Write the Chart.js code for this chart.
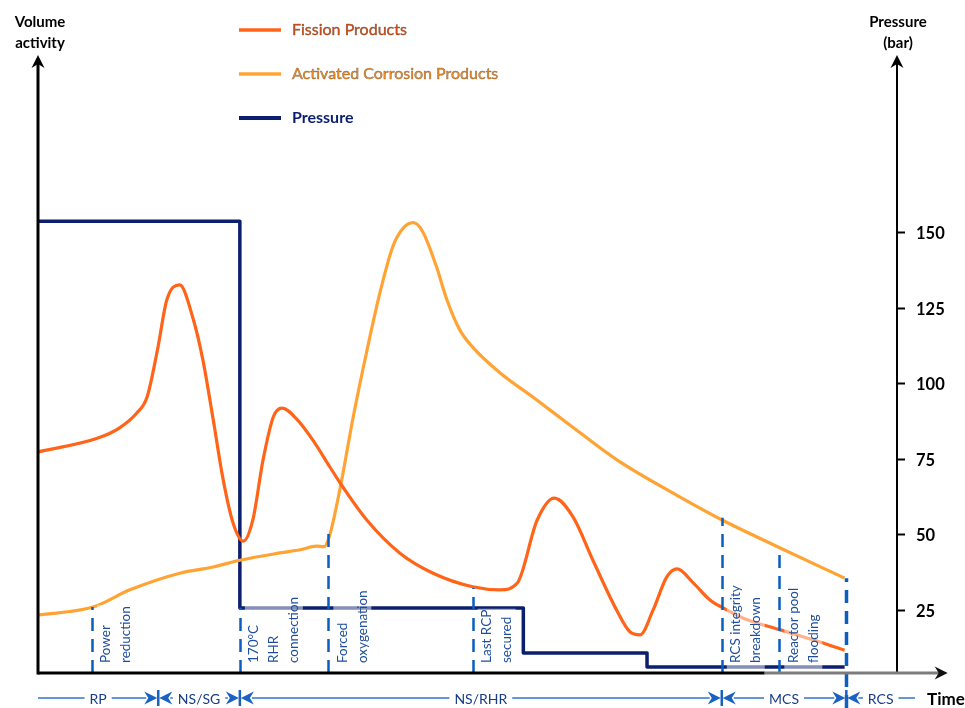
<!DOCTYPE html>
<html>
<head>
<meta charset="utf-8">
<script src="https://cdn.jsdelivr.net/npm/chart.js@4/dist/chart.umd.min.js"></script>
<style>
  html, body { margin: 0; padding: 0; background: #ffffff; }
  #wrap { width: 965px; height: 708px; position: relative; }
</style>
</head>
<body>
<div id="wrap"><canvas id="c"></canvas></div>
<script>
// ---- Data ---------------------------------------------------------------
// Time axis is in relative units (0 .. 100 across the plot).
const fpTime = [0, 6.9, 9.5, 11.5, 12.7, 13.9, 15.0, 16.5, 18.0, 19.2, 20.4, 21.5, 22.7, 23.9, 25.0, 26.2, 27.4, 28.4, 30.2, 32.0, 34.0, 35.2, 38.3, 42.1, 46.0, 50.6, 53.8, 55.8, 58.1, 60.1, 62.3, 64.6, 67.4, 68.9, 70.1, 71.6, 73.2, 74.4, 76.3, 78.2, 79.7, 82.1, 86.4, 90.2, 93.9];
const fpActivity = [35.9, 38.1, 39.8, 42.2, 44.8, 52.4, 60.6, 63.0, 57.8, 50.8, 41.1, 31.8, 24.4, 21.4, 24.8, 34.6, 41.6, 43.0, 41.1, 37.8, 33.4, 30.8, 24.8, 19.5, 16.2, 14.0, 13.5, 14.6, 24.8, 28.4, 25.3, 18.3, 10.1, 6.7, 6.2, 10.2, 15.6, 16.9, 14.6, 11.9, 10.6, 8.9, 7.0, 5.4, 3.7];

const acpTime = [0, 6.4, 10.7, 16.5, 20.4, 23.5, 28.2, 30.5, 32.4, 33.3, 33.9, 35.2, 36.7, 38.3, 39.8, 41.3, 42.5, 43.7, 44.8, 46.4, 47.6, 49.1, 50.6, 53.8, 57.6, 61.6, 67.4, 74.7, 79.7, 86.4, 93.9];
const acpActivity = [9.4, 10.7, 13.5, 16.2, 17.2, 18.3, 19.5, 20.0, 20.6, 20.5, 22.1, 30.2, 41.6, 52.4, 61.7, 69.2, 72.2, 73.1, 71.6, 65.9, 60.6, 55.7, 52.9, 48.7, 44.8, 40.6, 34.6, 28.6, 24.8, 20.3, 15.4];

const pressureTime = [0, 23.5, 56.5, 70.9, 93.9];
const pressureBar = [153.6, 25.7, 10.8, 6.2, 6.2];

const pressureTicks = [25, 50, 75, 100, 125, 150];

// Operating events: time, activity level where the marker starts, caption lines
const eventTime = [6.3, 23.5, 33.8, 50.6, 79.6, 86.3, 94.1];
const eventTop = [10.7, 10.6, 23.5, 13.8, 25.2, 20.3, 15.4];
const eventText = [
  ['Power', 'reduction'],
  ['170°C', 'RHR', 'connection'],
  ['Forced', 'oxygenation'],
  ['Last RCP', 'secured'],
  ['RCS integrity', 'breakdown'],
  ['Reactor pool', 'flooding'],
  []
];

// Shutdown phases along the time axis
const phaseNames = ['RP', 'NS/SG', 'NS/RHR', 'MCS', 'RCS'];
const phaseBounds = [0, 14.0, 23.5, 79.6, 94.1, 102.1];

const seriesNames = ['Fission Products', 'Activated Corrosion Products', 'Pressure'];

// ---- Styling ------------------------------------------------------------
const COL = {
  fp: '#FF6419',
  acp: '#FFA434',
  pres: '#0B1F6E',
  event: '#0B5EC0',
  eventText: '#1E4E9C',
  phaseLine: '#3576C6',
  phaseText: '#173C88'
};
const FONT = 'Lato, "Open Sans", sans-serif';

function pts(xs, ys) { return xs.map((t, i) => ({ x: t, y: ys[i] })); }

function arrowHead(ctx, x, y, dir) {
  // filled notched arrowhead, dir 'up' or 'right'
  ctx.beginPath();
  if (dir === 'up') {
    ctx.moveTo(x, y);
    ctx.lineTo(x - 6.5, y + 13);
    ctx.lineTo(x, y + 9);
    ctx.lineTo(x + 6.5, y + 13);
  } else {
    ctx.moveTo(x, y);
    ctx.lineTo(x - 13, y - 6.5);
    ctx.lineTo(x - 9, y);
    ctx.lineTo(x - 13, y + 6.5);
  }
  ctx.closePath();
  ctx.fill();
}

function bowtie(ctx, x, y, color) {
  // two arrowheads meeting at a phase boundary
  ctx.fillStyle = color;
  ctx.beginPath();
  ctx.moveTo(x - 1, y);
  ctx.lineTo(x - 14, y - 6.5);
  ctx.lineTo(x - 10, y);
  ctx.lineTo(x - 14, y + 6.5);
  ctx.closePath();
  ctx.fill();
  ctx.beginPath();
  ctx.moveTo(x + 1, y);
  ctx.lineTo(x + 14, y - 6.5);
  ctx.lineTo(x + 10, y);
  ctx.lineTo(x + 14, y + 6.5);
  ctx.closePath();
  ctx.fill();
  ctx.strokeStyle = color;
  ctx.lineWidth = 2.5;
  ctx.beginPath();
  ctx.moveTo(x, y - 8);
  ctx.lineTo(x, y + 8);
  ctx.stroke();
}

const decorations = {
  id: 'decorations',
  afterDatasetsDraw(chart) {
    const { ctx, chartArea: a, scales } = chart;
    const sx = scales.x, sy = scales.y, sp = scales.y1;
    ctx.save();

    // event markers (dashed)
    eventTime.forEach((t, i) => {
      const px = Math.round(sx.getPixelForValue(t)) + 0.5;
      const top = sy.getPixelForValue(eventTop[i]);
      const last = i === eventTime.length - 1;
      ctx.strokeStyle = COL.event;
      ctx.lineWidth = last ? 3.5 : 2.5;
      ctx.setLineDash([13, 8]);
      ctx.beginPath();
      ctx.moveTo(px, last ? chart.height : a.bottom);
      ctx.lineTo(px, top);
      ctx.stroke();
    });
    ctx.setLineDash([]);

    // event captions, rotated, on a translucent backing
    ctx.font = '13.5px ' + FONT;
    eventText.forEach((lines, i) => {
      if (!lines.length) return;
      const px = sx.getPixelForValue(eventTime[i]);
      const x0 = px + 14, step = 20, yb = a.bottom - 10;
      const w = Math.max(...lines.map(s => ctx.measureText(s).width));
      ctx.fillStyle = 'rgba(255,255,255,0.5)';
      ctx.fillRect(x0 - 9, yb - w - 1, (lines.length - 1) * step + 18, w + 7);
      ctx.fillStyle = COL.eventText;
      ctx.textAlign = 'left';
      ctx.textBaseline = 'middle';
      lines.forEach((s, k) => {
        ctx.save();
        ctx.translate(x0 + k * step, yb);
        ctx.rotate(-Math.PI / 2);
        ctx.fillText(s, 0, 0);
        ctx.restore();
      });
    });

    // axes
    ctx.fillStyle = '#000';
    ctx.strokeStyle = '#000';
    ctx.lineWidth = 3;
    ctx.beginPath();
    ctx.moveTo(a.left, a.bottom + 1.5);
    ctx.lineTo(a.left, a.top + 6);
    ctx.stroke();
    arrowHead(ctx, a.left, a.top - 2, 'up');

    ctx.lineWidth = 2;
    ctx.beginPath();
    ctx.moveTo(a.right, a.bottom);
    ctx.lineTo(a.right, a.top + 6);
    ctx.stroke();
    arrowHead(ctx, a.right, a.top - 2, 'up');

    const xEnd = sx.getPixelForValue(105.9);
    const xGrey = sx.getPixelForValue(84.6);
    ctx.lineWidth = 3;
    ctx.beginPath();
    ctx.moveTo(a.left, a.bottom);
    ctx.lineTo(xGrey, a.bottom);
    ctx.stroke();
    ctx.strokeStyle = '#7c7c7c';
    ctx.beginPath();
    ctx.moveTo(xGrey, a.bottom);
    ctx.lineTo(xEnd - 8, a.bottom);
    ctx.stroke();
    ctx.fillStyle = '#111';
    arrowHead(ctx, xEnd, a.bottom, 'right');

    // pressure ticks
    ctx.fillStyle = '#000';
    ctx.strokeStyle = '#000';
    ctx.lineWidth = 2;
    ctx.font = 'bold 16.5px ' + FONT;
    ctx.textAlign = 'left';
    ctx.textBaseline = 'middle';
    pressureTicks.forEach(v => {
      const py = Math.round(sp.getPixelForValue(v)) + 0.5;
      ctx.beginPath();
      ctx.moveTo(a.right, py);
      ctx.lineTo(a.right + 8, py);
      ctx.stroke();
      ctx.fillText(String(v), a.right + 19, py + 1);
    });

    // axis titles
    ctx.font = 'bold 15px ' + FONT;
    ctx.textAlign = 'center';
    ctx.fillText('Volume', a.left + 2, 22);
    ctx.fillText('activity', a.left + 2, 43);
    ctx.fillText('Pressure', a.right + 1, 22);
    ctx.fillText('(bar)', a.right + 1, 43);
    ctx.font = 'bold 17px ' + FONT;
    ctx.textAlign = 'left';
    ctx.fillText('Time', sx.getPixelForValue(103.5), 700);

    // legend
    const legCols = [COL.fp, COL.acp, COL.pres];
    const legText = ['#D9531C', '#F0942A', '#0B1F6E'];
    const legY = [30, 74, 118];
    ctx.textBaseline = 'middle';
    chart.data.datasets.forEach((ds, i) => {
      ctx.strokeStyle = legCols[i];
      ctx.lineWidth = i === 2 ? 4 : 3.5;
      ctx.beginPath();
      ctx.moveTo(239, legY[i]);
      ctx.lineTo(281, legY[i]);
      ctx.stroke();
      ctx.fillStyle = legText[i];
      ctx.font = (i === 2 ? 'bold ' : '') + '16px ' + FONT;
      ctx.fillText(ds.label, 292, legY[i]);
      ctx.lineWidth = 0.5;
      ctx.strokeStyle = 'rgba(60,30,10,0.55)';
      if (i < 2) ctx.strokeText(ds.label, 292, legY[i]);
    });

    // phase timeline
    const ty = 698;
    ctx.font = '14px ' + FONT;
    ctx.textAlign = 'center';
    ctx.textBaseline = 'middle';
    for (let k = 0; k < phaseNames.length; k++) {
      const x1 = sx.getPixelForValue(phaseBounds[k]);
      const x2 = sx.getPixelForValue(phaseBounds[k + 1]);
      const cx = (x1 + x2) / 2;
      const w = ctx.measureText(phaseNames[k]).width;
      const s1 = x1 + (k > 0 ? 12 : 0), e2 = x2 - (k < phaseNames.length - 1 ? 12 : 0);
      ctx.strokeStyle = COL.phaseLine;
      ctx.lineWidth = 1.6;
      ctx.beginPath();
      ctx.moveTo(s1, ty);
      ctx.lineTo(cx - w / 2 - 5, ty);
      ctx.moveTo(cx + w / 2 + 5, ty);
      ctx.lineTo(e2, ty);
      ctx.stroke();
      ctx.fillStyle = COL.phaseText;
      ctx.fillText(phaseNames[k], cx, ty + 1);
    }
    for (let k = 1; k < phaseBounds.length - 1; k++) {
      bowtie(ctx, sx.getPixelForValue(phaseBounds[k]), ty, '#1A62C2');
    }

    ctx.restore();
  }
};

new Chart(document.getElementById('c'), {
  type: 'line',
  data: {
    datasets: [
      {
        label: seriesNames[0],
        data: pts(fpTime, fpActivity),
        yAxisID: 'y',
        borderColor: COL.fp,
        borderWidth: 3.2,
        cubicInterpolationMode: 'monotone',
        pointRadius: 0
      },
      {
        label: seriesNames[1],
        data: pts(acpTime, acpActivity),
        yAxisID: 'y',
        borderColor: COL.acp,
        borderWidth: 3.2,
        cubicInterpolationMode: 'monotone',
        pointRadius: 0
      },
      {
        label: seriesNames[2],
        data: pts(pressureTime, pressureBar),
        yAxisID: 'y1',
        borderColor: COL.pres,
        borderWidth: 3.5,
        stepped: 'before',
        pointRadius: 0
      }
    ]
  },
  options: {
    responsive: true,
    maintainAspectRatio: false,
    animation: false,
    layout: { padding: { left: 38, right: 68, top: 57, bottom: 35 } },
    scales: {
      x: { type: 'linear', min: 0, max: 100, display: false },
      y: { type: 'linear', min: 0, max: 100, display: false },
      y1: { type: 'linear', min: 4.2, max: 207.9, display: false, position: 'right' }
    },
    plugins: { legend: { display: false }, tooltip: { enabled: false } },
    elements: { line: { borderCapStyle: 'butt', borderJoinStyle: 'round' } }
  },
  plugins: [decorations]
});
</script>
</body>
</html>
